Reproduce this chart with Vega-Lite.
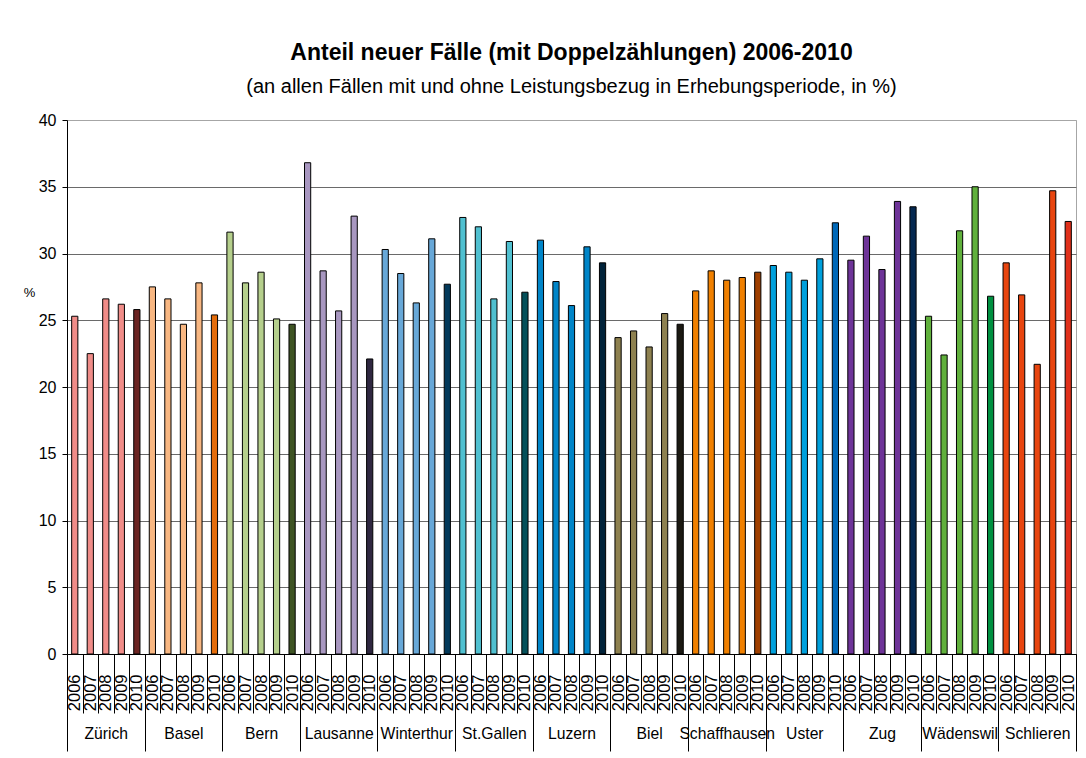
{
  "$schema": "https://vega.github.io/schema/vega-lite/v6.json",
  "width": 1009,
  "height": 534,
  "autosize": {"type": "none"},
  "padding": {"left": 67, "top": 120, "right": 10, "bottom": 104},
  "background": "white",
  "title": {
    "text": "Anteil neuer Fälle (mit Doppelzählungen) 2006-2010",
    "subtitle": "(an allen Fällen mit und ohne Leistungsbezug in Erhebungsperiode, in %)",
    "font": "Liberation Sans",
    "fontSize": 23,
    "fontWeight": "bold",
    "color": "black",
    "subtitleFont": "Liberation Sans",
    "subtitleFontSize": 20,
    "subtitleColor": "black",
    "subtitlePadding": 12,
    "anchor": "middle",
    "frame": "group",
    "offset": 15
  },
  "data": {
    "values": [
      {"city": "Zürich", "year": "2006", "v": 25.3},
      {"city": "Zürich", "year": "2007", "v": 22.5},
      {"city": "Zürich", "year": "2008", "v": 26.6},
      {"city": "Zürich", "year": "2009", "v": 26.2},
      {"city": "Zürich", "year": "2010", "v": 25.8},
      {"city": "Basel", "year": "2006", "v": 27.5},
      {"city": "Basel", "year": "2007", "v": 26.6},
      {"city": "Basel", "year": "2008", "v": 24.7},
      {"city": "Basel", "year": "2009", "v": 27.8},
      {"city": "Basel", "year": "2010", "v": 25.4},
      {"city": "Bern", "year": "2006", "v": 31.6},
      {"city": "Bern", "year": "2007", "v": 27.8},
      {"city": "Bern", "year": "2008", "v": 28.6},
      {"city": "Bern", "year": "2009", "v": 25.1},
      {"city": "Bern", "year": "2010", "v": 24.7},
      {"city": "Lausanne", "year": "2006", "v": 36.8},
      {"city": "Lausanne", "year": "2007", "v": 28.7},
      {"city": "Lausanne", "year": "2008", "v": 25.7},
      {"city": "Lausanne", "year": "2009", "v": 32.8},
      {"city": "Lausanne", "year": "2010", "v": 22.1},
      {"city": "Winterthur", "year": "2006", "v": 30.3},
      {"city": "Winterthur", "year": "2007", "v": 28.5},
      {"city": "Winterthur", "year": "2008", "v": 26.3},
      {"city": "Winterthur", "year": "2009", "v": 31.1},
      {"city": "Winterthur", "year": "2010", "v": 27.7},
      {"city": "St.Gallen", "year": "2006", "v": 32.7},
      {"city": "St.Gallen", "year": "2007", "v": 32.0},
      {"city": "St.Gallen", "year": "2008", "v": 26.6},
      {"city": "St.Gallen", "year": "2009", "v": 30.9},
      {"city": "St.Gallen", "year": "2010", "v": 27.1},
      {"city": "Luzern", "year": "2006", "v": 31.0},
      {"city": "Luzern", "year": "2007", "v": 27.9},
      {"city": "Luzern", "year": "2008", "v": 26.1},
      {"city": "Luzern", "year": "2009", "v": 30.5},
      {"city": "Luzern", "year": "2010", "v": 29.3},
      {"city": "Biel", "year": "2006", "v": 23.7},
      {"city": "Biel", "year": "2007", "v": 24.2},
      {"city": "Biel", "year": "2008", "v": 23.0},
      {"city": "Biel", "year": "2009", "v": 25.5},
      {"city": "Biel", "year": "2010", "v": 24.7},
      {"city": "Schaffhausen", "year": "2006", "v": 27.2},
      {"city": "Schaffhausen", "year": "2007", "v": 28.7},
      {"city": "Schaffhausen", "year": "2008", "v": 28.0},
      {"city": "Schaffhausen", "year": "2009", "v": 28.2},
      {"city": "Schaffhausen", "year": "2010", "v": 28.6},
      {"city": "Uster", "year": "2006", "v": 29.1},
      {"city": "Uster", "year": "2007", "v": 28.6},
      {"city": "Uster", "year": "2008", "v": 28.0},
      {"city": "Uster", "year": "2009", "v": 29.6},
      {"city": "Uster", "year": "2010", "v": 32.3},
      {"city": "Zug", "year": "2006", "v": 29.5},
      {"city": "Zug", "year": "2007", "v": 31.3},
      {"city": "Zug", "year": "2008", "v": 28.8},
      {"city": "Zug", "year": "2009", "v": 33.9},
      {"city": "Zug", "year": "2010", "v": 33.5},
      {"city": "Wädenswil", "year": "2006", "v": 25.3},
      {"city": "Wädenswil", "year": "2007", "v": 22.4},
      {"city": "Wädenswil", "year": "2008", "v": 31.7},
      {"city": "Wädenswil", "year": "2009", "v": 35.0},
      {"city": "Wädenswil", "year": "2010", "v": 26.8},
      {"city": "Schlieren", "year": "2006", "v": 29.3},
      {"city": "Schlieren", "year": "2007", "v": 26.9},
      {"city": "Schlieren", "year": "2008", "v": 21.7},
      {"city": "Schlieren", "year": "2009", "v": 34.7},
      {"city": "Schlieren", "year": "2010", "v": 32.4}
    ]
  },
  "transform": [
    {"calculate": "datum.city + ' ' + datum.year", "as": "key"},
    {"calculate": "datum.year == '2010' ? datum.city + ' 2010' : datum.city", "as": "shade"}
  ],
  "layer": [
    {
      "mark": {"type": "bar", "width": {"band": 0.4}, "stroke": "black", "strokeWidth": 1},
      "encoding": {
        "x": {
          "field": "key",
          "type": "nominal",
          "sort": null,
          "scale": {"paddingInner": 0, "paddingOuter": 0},
          "axis": {
            "orient": "bottom",
            "title": null,
            "labelExpr": "slice(datum.label, -4)",
            "labelAngle": 270,
            "labelAlign": "right",
            "labelBaseline": "middle",
            "labelFont": "Liberation Sans",
            "labelFontSize": 16.5,
            "labelColor": "black",
            "labelPadding": -39,
            "labelOverlap": false,
            "labelBound": false,
            "labelFlush": false,
            "tickSize": 59,
            "tickBand": "extent",
            "tickColor": "black",
            "domainColor": "black",
            "grid": false
          }
        },
        "y": {
          "field": "v",
          "type": "quantitative",
          "scale": {"domain": [0, 40], "nice": false},
          "axis": {
            "values": [0, 5, 10, 15, 20, 25, 30, 35, 40],
            "grid": true,
            "gridColor": {"condition": {"test": "datum.value == 40", "value": "#A6A6A6"}, "value": "#6a6a6a"},
            "domainColor": "black",
            "tickColor": "black",
            "tickSize": 5,
            "labelFont": "Liberation Sans",
            "labelFontSize": 16,
            "labelColor": "black",
            "labelPadding": 6,
            "title": "%",
            "titleAngle": 0,
            "titleFont": "Liberation Sans",
            "titleFontWeight": "normal",
            "titleFontSize": 13,
            "titleColor": "black",
            "titleX": -38,
            "titleY": 172,
            "titleAlign": "center",
            "titleBaseline": "middle"
          }
        },
        "color": {
          "field": "shade",
          "type": "nominal",
          "legend": null,
          "scale": {
            "domain": ["Zürich", "Zürich 2010", "Basel", "Basel 2010", "Bern", "Bern 2010", "Lausanne", "Lausanne 2010", "Winterthur", "Winterthur 2010", "St.Gallen", "St.Gallen 2010", "Luzern", "Luzern 2010", "Biel", "Biel 2010", "Schaffhausen", "Schaffhausen 2010", "Uster", "Uster 2010", "Zug", "Zug 2010", "Wädenswil", "Wädenswil 2010", "Schlieren", "Schlieren 2010"],
            "range": ["#F08C88", "#6B2422", "#F8B782", "#E36C0A", "#B5CF8C", "#3F5424", "#A897C0", "#2F2740", "#68A8D8", "#03395A", "#50C0D0", "#04505A", "#0085C8", "#01233A", "#8E8150", "#1C1A12", "#F08000", "#A04000", "#00A0DC", "#0068B8", "#6E3498", "#042850", "#60B03C", "#009040", "#E8450F", "#E0301A"]
          }
        }
      }
    },
    {
      "mark": {"type": "bar", "opacity": 0},
      "encoding": {
        "x": {
          "field": "city",
          "type": "nominal",
          "sort": null,
          "scale": {"paddingInner": 0, "paddingOuter": 0},
          "axis": {
            "orient": "bottom",
            "title": null,
            "domain": false,
            "grid": false,
            "tickSize": 97,
            "tickBand": "extent",
            "tickColor": "black",
            "labelExpr": "datum.label",
            "labelAngle": 0,
            "labelAlign": "center",
            "labelFont": "Liberation Sans",
            "labelFontSize": 15.7,
            "labelColor": "black",
            "labelPadding": -25,
            "labelBaseline": "top",
            "labelOverlap": false,
            "labelBound": false,
            "labelFlush": false
          }
        }
      }
    }
  ],
  "resolve": {"scale": {"x": "independent"}, "axis": {"x": "independent"}},
  "config": {"view": {"stroke": "#A6A6A6", "strokeWidth": 1}, "font": "Liberation Sans"}
}
